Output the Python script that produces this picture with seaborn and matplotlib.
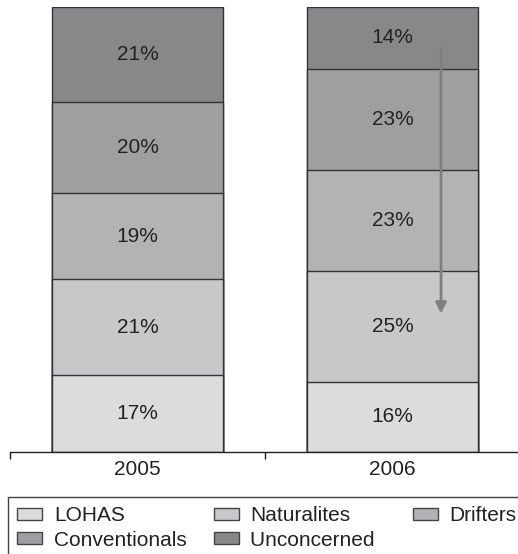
import numpy as np
import pandas as pd
import matplotlib
matplotlib.use("Agg")
import matplotlib.pyplot as plt
import seaborn as sns
from matplotlib.patches import Patch

# Data
years = ["2005", "2006"]
segments = ["LOHAS", "Naturalites", "Drifters", "Conventionals", "Unconcerned"]
lohas = [17, 16]
naturalites = [21, 25]
drifters = [19, 23]
conventionals = [20, 23]
unconcerned = [21, 14]
colors = ["#dcdcdd", "#c8c8ca", "#b3b3b5", "#9f9fa2", "#88888b"]

sns.set_theme(style="white")
plt.rcParams["font.family"] = ["Liberation Sans", "DejaVu Sans"]

raw = pd.DataFrame({"LOHAS": lohas, "Naturalites": naturalites, "Drifters": drifters,
                    "Conventionals": conventionals, "Unconcerned": unconcerned}, index=years)
# bars are drawn to full height, so normalise each year to 100
share = raw.div(raw.sum(axis=1), axis=0) * 100
cum = share.cumsum(axis=1)

fig = plt.figure(figsize=(5.18, 5.54), dpi=100)
ax = fig.add_axes([10 / 518, 1 - 452 / 554, 1 - 10 / 518 + 0.004, 445 / 554])

# draw the stacks from top down so each lower layer covers the one above
for seg, col in reversed(list(zip(segments, colors))):
    df = pd.DataFrame({"year": years, "val": cum[seg].values})
    sns.barplot(data=df, x="year", y="val", color=col, width=0.667, saturation=1,
                edgecolor="#333333", linewidth=1.0, ax=ax)

# percentage labels in the middle of each segment
for i, yr in enumerate(years):
    for seg in segments:
        mid = cum.loc[yr, seg] - share.loc[yr, seg] / 2
        ax.text(i, mid, f"{raw.loc[yr, seg]}%", ha="center", va="center",
                fontsize=15, color="#222222")

# arrow showing the shift in 2006
ax.annotate("", xy=(1.19, 30.5), xytext=(1.19, 91.5),
            arrowprops=dict(arrowstyle="-|>", color="#7f7f7f", lw=2, mutation_scale=16))

ax.set_xlim(-0.5, 1.5)
ax.set_ylim(0, 100)
ax.set_xlabel("")
ax.set_ylabel("")
ax.set_yticks([])
for s in ["top", "right", "left"]:
    ax.spines[s].set_visible(False)
ax.spines["bottom"].set_color("#222222")
ax.spines["bottom"].set_linewidth(1.0)
ax.set_xticks([-0.5, 0.5, 1.5], minor=True)
ax.tick_params(axis="x", which="minor", length=5, width=1, color="#222222", direction="out", bottom=True)
ax.tick_params(axis="x", which="major", length=0, labelsize=15, labelcolor="#222222", pad=6)

# legend laid out row by row (matplotlib fills by column)
order = [0, 3, 1, 4, 2]
labels = {k: segments[k] for k in range(5)}
labels[4] = segments[4] + "  "  # widen middle column a bit
handles = [Patch(facecolor=colors[k], edgecolor="#444444", linewidth=1.0, label=labels[k]) for k in order]
leg = fig.legend(handles=handles, loc="upper left", bbox_to_anchor=(8 / 518, 1 - 497 / 554),
                 ncol=3, fontsize=15, frameon=True, fancybox=False, handlelength=1.2,
                 handleheight=0.55, handletextpad=0.55, columnspacing=1.3,
                 labelspacing=0.25, borderpad=0.45, borderaxespad=0)
leg.get_frame().set_edgecolor("#111111")
leg.get_frame().set_linewidth(1.0)
for t in leg.get_texts():
    t.set_color("#222222")

fig.savefig("out.png", dpi=100)
